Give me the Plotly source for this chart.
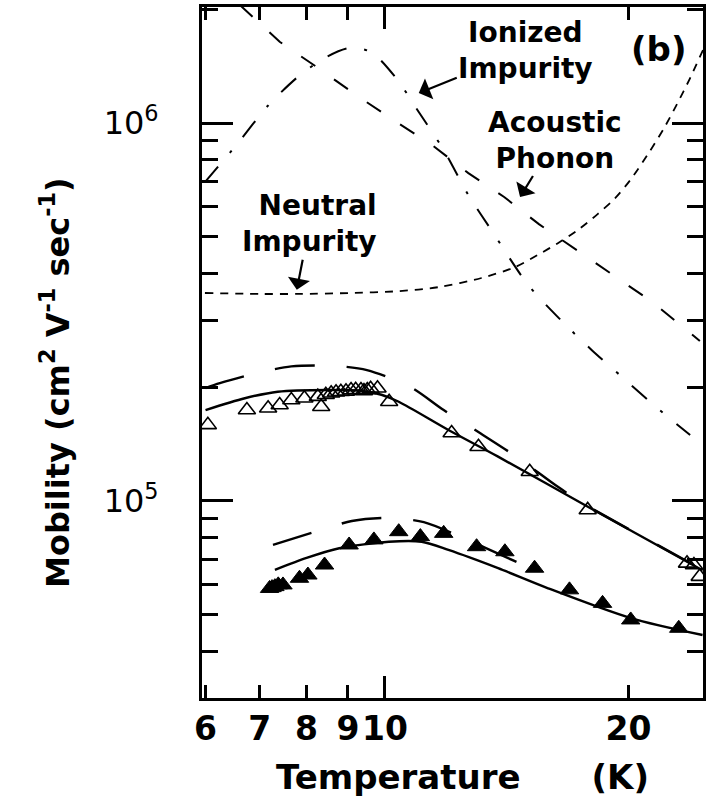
import math
import plotly.graph_objects as go

# ---- measured mobility (open: sample 1, filled: sample 2) ----
T_open = [6.04, 6.75, 7.17, 7.41, 7.66, 7.95, 8.26, 8.34, 8.45, 8.58, 8.70, 8.82, 8.95,
          9.08, 9.20, 9.34, 9.42, 9.51, 9.60, 9.79, 10.12, 12.09, 13.05, 15.1, 17.81,
          23.63, 24.1, 24.5]
mu_open = [1.59e5, 1.74e5, 1.76e5, 1.795e5, 1.85e5, 1.87e5, 1.888e5, 1.776e5, 1.91e5,
           1.927e5, 1.94e5, 1.946e5, 1.95e5, 1.967e5, 1.97e5, 1.967e5, 1.955e5, 1.967e5,
           1.98e5, 1.987e5, 1.83e5, 1.513e5, 1.392e5, 1.195e5, 0.947e5, 0.684e5,
           0.677e5, 0.631e5]

T_fill = [7.2, 7.25, 7.31, 7.38, 7.48, 7.84, 8.03, 8.42, 9.03, 9.69, 10.40, 11.06, 11.82,
          12.98, 14.07, 15.31, 16.91, 18.58, 20.13, 23.08]
mu_fill = [0.587e5, 0.59e5, 0.5935e5, 0.60e5, 0.5997e5, 0.6245e5, 0.637e5, 0.677e5,
           0.765e5, 0.789e5, 0.8295e5, 0.805e5, 0.821e5, 0.757e5, 0.734e5, 0.664e5,
           0.582e5, 0.536e5, 0.4845e5, 0.4605e5]

# ---- calculated total mobility (solid: full model, dashed: alternative) ----
T_fit1 = [6.0, 6.71, 7.37, 8.5, 9.4, 9.9, 10.4, 11.98, 13.8, 17.66, 23.43, 24.7]
mu_fit1 = [1.74e5, 1.87e5, 1.946e5, 1.967e5, 1.955e5, 1.91e5, 1.83e5, 1.541e5, 1.31e5,
           0.976e5, 0.698e5, 0.655e5]
T_alt1 = [6.0, 6.25, 7.0, 7.66, 8.58, 9.5, 10.76, 11.82, 13.12, 14.61, 16.36, 17.66,
          23.43, 24.7]
mu_alt1 = [1.99e5, 2.05e5, 2.19e5, 2.27e5, 2.28e5, 2.22e5, 2.0e5, 1.74e5, 1.51e5, 1.30e5,
           1.09e5, 0.98e5, 0.70e5, 0.657e5]

T_fit2 = [7.31, 8.0, 8.78, 10.11, 11.1, 11.98, 13.8, 15.91, 20.13, 24.7]
mu_fit2 = [0.657e5, 0.707e5, 0.75e5, 0.78e5, 0.78e5, 0.742e5, 0.664e5, 0.5875e5, 0.49e5,
           0.442e5]
T_alt2 = [7.27, 8.18, 9.1, 10.11, 11.17, 12.5, 14.2, 15.6]
mu_alt2 = [0.765e5, 0.828e5, 0.885e5, 0.902e5, 0.879e5, 0.798e5, 0.706e5, 0.645e5]

# ---- individual scattering contributions ----
T_ion = [5.99, 6.58, 7.16, 7.80, 8.42, 9.03, 9.61, 10.32, 11.01, 11.82, 12.68, 13.61,
         15.03, 16.55, 18.01, 19.78, 21.65, 23.84]
mu_ion = [6.98e5, 8.85e5, 1.109e6, 1.323e6, 1.486e6, 1.579e6, 1.541e6, 1.315e6, 1.069e6,
          8.48e5, 6.45e5, 5.12e5, 3.73e5, 2.99e5, 2.51e5, 2.10e5, 1.77e5, 1.495e5]

T_ac = [6.62, 7.41, 8.20, 9.19, 10.23, 11.48, 12.68, 14.04, 15.50, 17.31, 19.28, 21.41,
        24.51]
mu_ac = [2.05e6, 1.64e6, 1.415e6, 1.19e6, 1.02e6, 8.69e5, 7.37e5, 6.37e5, 5.40e5, 4.59e5,
         3.91e5, 3.36e5, 2.65e5]

T_neu = [5.99, 7.0, 7.84, 9.03, 10.40, 11.65, 13.16, 14.49, 15.46, 16.36, 17.31, 18.32,
         19.22, 20.11, 21.11, 22.14, 22.97, 23.84, 24.73]
mu_neu = [3.55e5, 3.53e5, 3.53e5, 3.55e5, 3.59e5, 3.68e5, 3.89e5, 4.16e5, 4.48e5, 4.81e5,
          5.21e5, 5.74e5, 6.30e5, 7.07e5, 8.23e5, 9.70e5, 1.123e6, 1.315e6, 1.56e6]

x_tick_vals = [6, 7, 8, 9, 10, 20]
x_tick_text = ["6", "7", "8", "9", "10", "20"]
y_tick_vals = [1e5, 1e6]
y_tick_text = ["10<sup>5</sup>", "10<sup>6</sup>"]
y_minor_vals = [m * 10 ** e for e in (4, 5) for m in range(2, 10)] + [2e6]

X_RANGE = [math.log10(5.94), math.log10(24.73)]
Y_RANGE = [4.4788, 6.3069]

FONT = "DejaVu Sans"
BLACK = "black"

fig = go.Figure()

def curve(x, y, dash, width=2.0, shape="spline"):
    fig.add_trace(go.Scatter(x=x, y=y, mode="lines",
                             line=dict(color=BLACK, width=width, dash=dash, shape=shape,
                                       smoothing=0.8),
                             showlegend=False, hoverinfo="skip"))

# scattering mechanisms
curve(T_ion, mu_ion, "20px,18px,3px,18px", width=2.0)
curve(T_ac, mu_ac, "17px,23px", width=2.0, shape="linear")
curve(T_neu, mu_neu, "8px,7px", width=1.8)

# model curves
curve(T_alt1, mu_alt1, "40px,32px", width=2.4)
curve(T_fit1, mu_fit1, "solid", width=2.4)
curve(T_alt2, mu_alt2, "40px,32px", width=2.4)
curve(T_fit2, mu_fit2, "solid", width=2.4)

# data
fig.add_trace(go.Scatter(x=T_open, y=mu_open, mode="markers",
                         marker=dict(symbol="triangle-up-open", size=15, color=BLACK,
                                     line=dict(width=1.6, color=BLACK)),
                         showlegend=False))
fig.add_trace(go.Scatter(x=T_fill, y=mu_fill, mode="markers",
                         marker=dict(symbol="triangle-up", size=16, color=BLACK,
                                     line=dict(width=1, color=BLACK)),
                         showlegend=False))
# carrier for the long tick at 10 K
fig.add_trace(go.Scatter(x=[], y=[], xaxis="x2", yaxis="y", showlegend=False))

fig.update_layout(
    width=708, height=796,
    margin=dict(l=202, r=2, t=7, b=98),
    paper_bgcolor="white", plot_bgcolor="white",
    showlegend=False,
    xaxis=dict(type="log", range=X_RANGE, tickvals=x_tick_vals, ticktext=x_tick_text,
               ticks="inside", ticklen=13, tickwidth=2.5, tickcolor=BLACK,
               showline=True, linewidth=3, linecolor=BLACK, mirror="ticks",
               showgrid=False, zeroline=False, ticklabelstandoff=-1,
               tickfont=dict(family=FONT, size=33, color=BLACK, weight="bold")),
    xaxis2=dict(type="log", range=X_RANGE, matches="x", overlaying="x", anchor="y",
                side="bottom", tickvals=[10], ticks="inside", ticklen=22, tickwidth=2.5,
                tickcolor=BLACK, showticklabels=False, showline=False, mirror="ticks",
                showgrid=False, zeroline=False),
    yaxis=dict(type="log", range=Y_RANGE, tickvals=y_tick_vals, ticktext=y_tick_text,
               ticks="inside", ticklen=31, tickwidth=2.5, tickcolor=BLACK,
               minor=dict(tickvals=y_minor_vals, ticks="inside", ticklen=16, tickwidth=2.5,
                          tickcolor=BLACK, showgrid=False),
               showline=True, linewidth=3, linecolor=BLACK, mirror="ticks",
               showgrid=False, zeroline=False, ticklabelstandoff=34,
               tickfont=dict(family=FONT, size=32, color=BLACK)),
)

def pointer(text, tx, ty, ax, ay, align="center"):
    # label placed (ax, ay) px away from the point it names, with an arrow to it
    fig.add_annotation(text=text, x=math.log10(tx), y=math.log10(ty), xref="x", yref="y",
                       showarrow=True, arrowhead=1, arrowsize=1.7, arrowwidth=2.2,
                       arrowcolor=BLACK, ax=ax, ay=ay, align=align,
                       font=dict(family=FONT, size=28, color=BLACK, weight="bold"))

pointer("Ionized<br>Impurity", 11.01, 1.2e6, 107, -43)
pointer("Acoustic<br>Phonon", 14.69, 6.37e5, 35, -57)
pointer("Neutral<br>Impurity", 7.78, 3.62e5, 13, -66, align="right")

fig.add_annotation(text="(b)", x=0.912, y=0.939, xref="paper", yref="paper",
                   xanchor="center", yanchor="middle", showarrow=False,
                   font=dict(family=FONT, size=34, color=BLACK, weight="bold"))

# axis titles
fig.add_annotation(text="Temperature      (K)", x=0.52, y=-0.114, xref="paper",
                   yref="paper", showarrow=False, xanchor="center", yanchor="middle",
                   font=dict(family=FONT, size=34, color=BLACK, weight="bold"))
fig.add_annotation(text="Mobility (cm<sup>2</sup> V<sup>-1</sup> sec<sup>-1</sup>)",
                   x=-0.292, y=0.457, xref="paper", yref="paper", showarrow=False,
                   textangle=-90, xanchor="center", yanchor="middle",
                   font=dict(family=FONT, size=32, color=BLACK, weight="bold"))

fig.write_html("out.html")
